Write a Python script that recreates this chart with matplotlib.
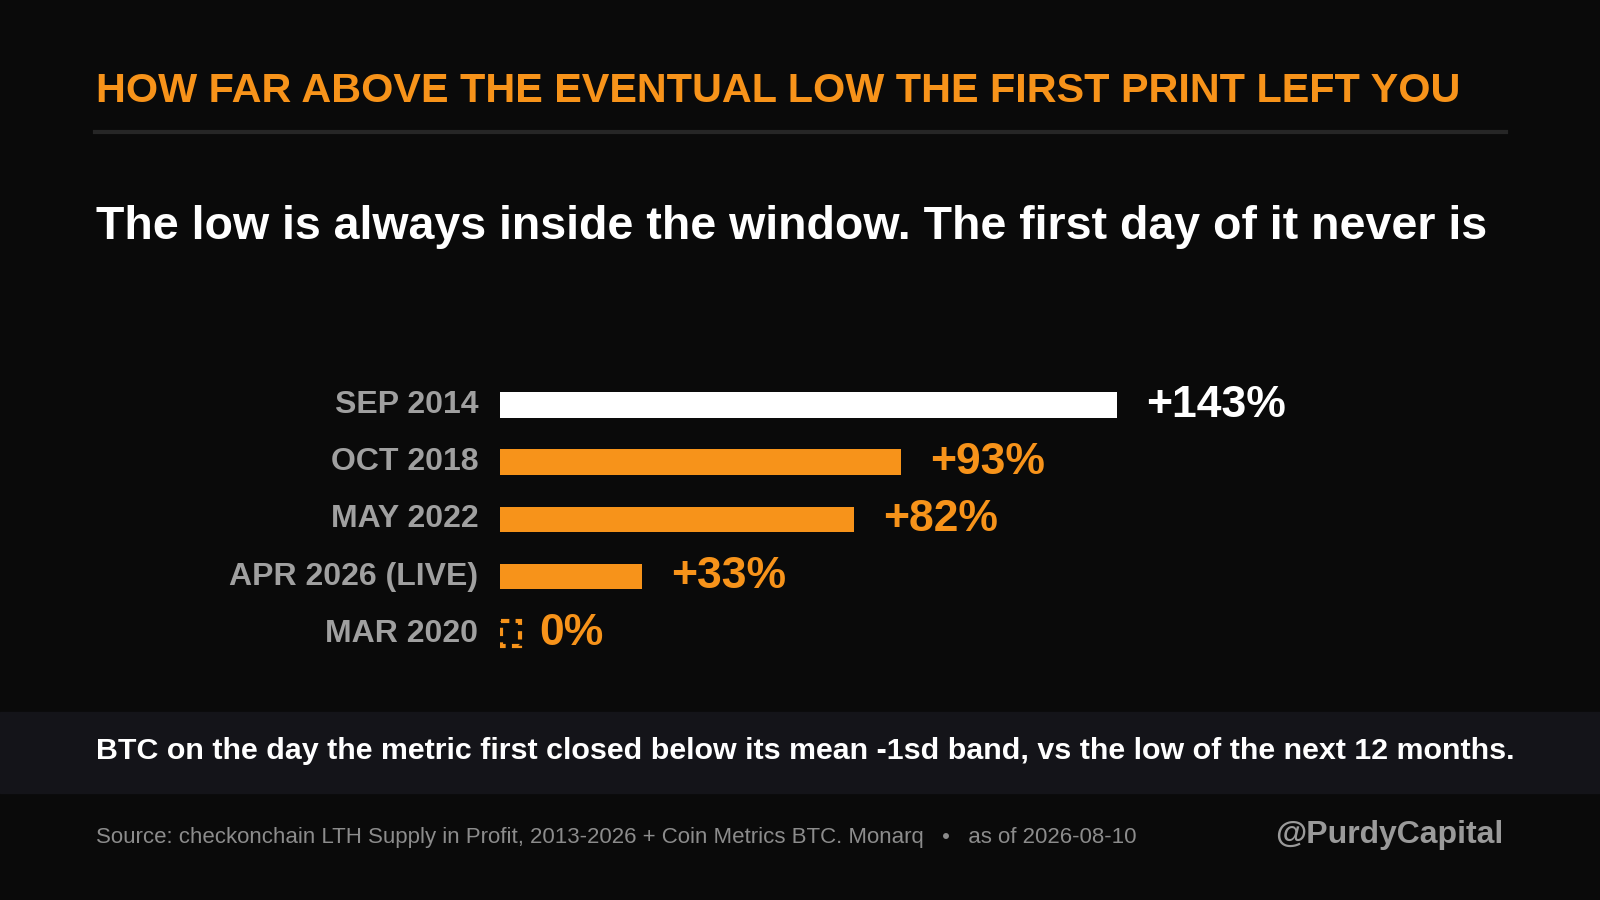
import matplotlib.pyplot as plt
from matplotlib.patches import Rectangle

labels = ["SEP 2014", "OCT 2018", "MAY 2022", "APR 2026 (LIVE)", "MAR 2020"]
values = [143, 93, 82, 33, 0]
value_text = ["+143%", "+93%", "+82%", "+33%", "0%"]

BG = "#0a0a0a"
ORANGE = "#f7931a"
W, H = 1568, 882

plt.rcParams['font.family'] = ['Liberation Sans', 'DejaVu Sans']
fig = plt.figure(figsize=(16, 9), dpi=100, facecolor=BG)


def fx(px):
    return px / W


def fy(py):
    return 1 - py / H


fig.text(fx(94), fy(89), "HOW FAR ABOVE THE EVENTUAL LOW THE FIRST PRINT LEFT YOU",
         color=ORANGE, fontsize=29.8, fontweight="bold", va="center")
fig.add_artist(plt.Line2D([fx(93), fx(1476)], [fy(129), fy(129)], color="#262626", lw=3))
fig.text(fx(94), fy(222), "The low is always inside the window. The first day of it never is",
         color="white", fontsize=33.5, fontweight="bold", va="center")

# caption band
fig.add_artist(Rectangle((0, fy(777)), 1, (777 - 698) / H, transform=fig.transFigure,
                         color="#141419", zorder=0))
fig.text(fx(94), fy(736), "BTC on the day the metric first closed below its mean -1sd band, vs the low of the next 12 months.",
         color="white", fontsize=21.9, fontweight="bold", va="center")
fig.text(fx(94), fy(821), "Source: checkonchain LTH Supply in Profit, 2013-2026 + Coin Metrics BTC. Monarq   \u2022   as of 2026-08-10",
         color="#8c8c8c", fontsize=16, va="center")
fig.text(fx(1473), fy(818), "@PurdyCapital", color="#9a9a9a", fontsize=23,
         fontweight="bold", va="center", ha="right")

ax = fig.add_axes([fx(490), fy(649), fx(846), 280 / H])
ax.set_facecolor(BG)
ax.set_xlim(0, 200)
ax.set_ylim(4.5, -0.5)
ax.axis("off")

for i, (lab, v, t) in enumerate(zip(labels, values, value_text)):
    col = "white" if i == 0 else ORANGE
    if v > 0:
        ax.barh(i, v, height=0.45, color=col)
        xt = v + 6.7
    else:
        ax.add_patch(Rectangle((0.2, i - 0.22), 4.5, 0.44, fill=False, ec=ORANGE,
                               lw=3, ls=(0, (2, 1.5))))
        xt = 9
    ax.text(xt, i, t, color=col, fontsize=32, fontweight="bold", va="center")
    ax.text(-5, i, lab, color="#a0a0a0", fontsize=23, fontweight="bold",
            va="center", ha="right")

fig.savefig("out.png", facecolor=BG)
